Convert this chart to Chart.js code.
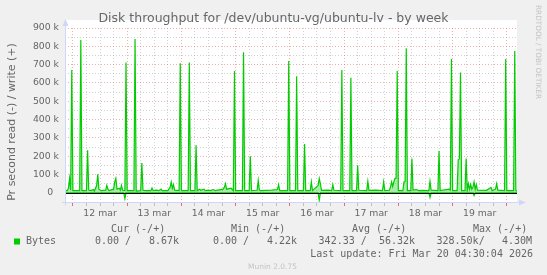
<!DOCTYPE html>
<html>
<head>
<meta charset="utf-8">
<script src="https://cdn.jsdelivr.net/npm/chart.js@4.4.1/dist/chart.umd.min.js"></script>
<style>
  html, body { margin: 0; padding: 0; background: #F0F0F0; }
  #wrap { width: 547px; height: 275px; position: relative; }
</style>
</head>
<body>
<div id="wrap"><canvas id="c" width="547" height="275"></canvas></div>
<script>
// Time in hours relative to 12 mar 00:00; values in k (bytes per second)
const dayLabels = ['12 mar', '13 mar', '14 mar', '15 mar', '16 mar', '17 mar', '18 mar', '19 mar'];
const yTickLabels = ['0', '100 k', '200 k', '300 k', '400 k', '500 k', '600 k', '700 k', '800 k', '900 k'];

const writeTimes = [-3.5,-2.5,-2,-1.5,-1,-0.5,0,3,3.5,4,6,6.5,7,8,9,9.5,10.5,11,11.5,12.5,
  14.5,15,15.5,16,18,18.5,19,19.5,20.5,21,21.5,22,23,23.5,24,27,27.5,28,30,30.5,
  31,32,34.5,35,35.5,37,38,39,39.5,42,43,43.5,44,44.5,45,47,47.5,48,51,51.5,
  52,54,54.5,55,56,56.5,58,58.5,60,61,62,63,66.5,67,67.5,68,70,71,71.5,72,
  75,75.5,76,78,78.5,79,81.5,82,82.5,83,88,90.5,91,91.5,95,95.5,96,98.5,99,99.5,
  102,102.5,103,105,105.5,106,108.5,109,109.5,110,113,114.5,115,115.5,118.5,119,119.5,122.5,123,123.5,
  125.5,126,126.5,130,130.5,131,134,137,137.5,138,140,140.5,141,141.5,142,142.5,143,143.5,144,146,
  146.5,147,147.5,148,149.5,150,150.5,152,153,155,157.5,158,158.5,161.5,162,162.5,166.5,167,167.5,168,
  170,170.5,171,171.5,172,173.5,174,174.5,175,175.5,176,176.5,177,177.5,178,178.5,179,183,185,185.5,
  187,187.5,188,191,191.5,192,195,195.5,196,196.5];
const writeValues = [12,12,25,78,14,670,12,12,835,12,12,232,15,12,18,10,40,101,20,12,
  15,41,20,12,20,60,79,20,25,15,41,14,12,712,12,12,840,10,12,163,
  14,12,12,26,12,15,12,20,12,12,30,59,25,45,15,12,707,12,12,712,
  12,12,260,12,20,14,20,12,15,12,18,12,20,30,50,20,25,12,665,12,
  12,767,12,12,200,12,14,68,16,12,15,18,45,12,12,720,12,12,637,12,
  12,266,12,12,60,12,40,78,50,14,15,12,45,14,12,670,12,12,628,12,
  12,150,14,12,63,14,15,12,60,12,14,30,60,35,60,78,80,665,12,12,
  60,62,790,12,12,188,15,18,12,14,12,63,15,12,228,12,20,15,731,12,
  12,182,185,657,12,12,188,15,50,20,45,20,30,60,20,45,15,14,30,12,
  20,50,15,12,731,12,12,775,12,8.67];

const readTimes = [-3.5,22.5,23,23.5,108.5,109,109.5,157.5,158,158.5,177,177.5,178,196.5];
const readValues = [0,0,-32,0,0,-40,0,0,-25,0,0,-15,0,0];

const legendHeaders = ['Cur (-/+)', 'Min (-/+)', 'Avg (-/+)', 'Max (-/+)'];
const legendValues = ['0.00 /', '8.67k', '0.00 /', '4.22k', '342.33 /', '56.32k', '328.50k/', '4.30M'];

const GREEN = '#00CC00';
const RED_GRID = 'rgba(222,79,79,0.45)';
const GRAY_GRID = 'rgba(143,143,143,0.4)';
const AXIS = '#CFD6F8';
const FONT_COL = '#666666';

function fillGrad(context) {
  const chart = context.chart;
  const area = chart.chartArea;
  if (!area) return 'rgba(0,204,0,0.2)';
  const y0 = chart.scales.y.getPixelForValue(0);
  const g = chart.ctx.createLinearGradient(0, area.top, 0, y0);
  g.addColorStop(0, 'rgba(0,204,0,0.03)');
  g.addColorStop(1, 'rgba(0,204,0,0.35)');
  return g;
}

const munin = {
  id: 'munin',
  beforeDraw(chart) {
    const c = chart.ctx, a = chart.chartArea;
    c.save();
    c.fillStyle = '#F0F0F0';
    c.fillRect(0, 0, chart.width, chart.height);
    c.fillStyle = '#FFFFFF';
    c.fillRect(a.left, a.top - 8, a.right - a.left, a.bottom - a.top + 9);
    c.restore();
  },
  afterDatasetsDraw(chart) {
    const c = chart.ctx, a = chart.chartArea;
    const y0 = Math.round(chart.scales.y.getPixelForValue(0)) + 0.5;
    c.save();
    c.strokeStyle = '#000000';
    c.lineWidth = 1;
    c.beginPath();
    c.moveTo(a.left, y0);
    c.lineTo(a.right, y0);
    c.stroke();
    c.restore();
  },
  afterDraw(chart) {
    const c = chart.ctx, a = chart.chartArea;
    c.save();
    // axes
    c.strokeStyle = AXIS;
    c.fillStyle = AXIS;
    c.lineWidth = 1;
    const ax = Math.round(a.left) + 0.5;
    const ay = Math.round(a.bottom) + 0.5;
    c.beginPath();
    c.moveTo(ax, ay + 3);
    c.lineTo(ax, a.top - 6);
    c.moveTo(a.left - 3, ay);
    c.lineTo(a.right + 6, ay);
    c.stroke();
    c.beginPath();
    c.moveTo(ax, a.top - 9);
    c.lineTo(ax - 3, a.top - 2);
    c.lineTo(ax + 3, a.top - 2);
    c.closePath();
    c.fill();
    c.beginPath();
    c.moveTo(a.right + 9, ay);
    c.lineTo(a.right + 2, ay - 3);
    c.lineTo(a.right + 2, ay + 3);
    c.closePath();
    c.fill();

    // title
    c.fillStyle = FONT_COL;
    c.font = '12.5px "DejaVu Sans"';
    c.textAlign = 'center';
    c.textBaseline = 'middle';
    c.fillText('Disk throughput for /dev/ubuntu-vg/ubuntu-lv - by week', 273.5, 19);

    // y title
    c.save();
    c.translate(12, 122);
    c.rotate(-Math.PI / 2);
    c.font = '11px "DejaVu Sans"';
    c.fillText('Pr second read (-) / write (+)', 0, 0);
    c.restore();

    // watermark
    c.save();
    c.translate(538, 5);
    c.rotate(Math.PI / 2);
    c.fillStyle = '#C4C4C4';
    c.font = '7.3px "DejaVu Sans"';
    c.textAlign = 'left';
    c.fillText('RRDTOOL / TOBI OETIKER', 0, 0);
    c.restore();

    // legend
    c.font = '10px "DejaVu Sans Mono"';
    c.textAlign = 'left';
    c.fillStyle = FONT_COL;
    const hx = [111, 231, 352, 473];
    legendHeaders.forEach((h, i) => c.fillText(h, hx[i], 229.5));
    c.fillStyle = GREEN;
    c.fillRect(14, 238.5, 6, 6);
    c.fillStyle = FONT_COL;
    c.fillText('Bytes', 26, 241.5);
    const vx = [95, 149, 213, 267, 318.6, 379, 436.5, 502];
    legendValues.forEach((v, i) => c.fillText(v, vx[i], 241.5));
    c.textAlign = 'right';
    c.fillText('Last update: Fri Mar 20 04:30:04 2026', 533, 254.5);

    c.textAlign = 'center';
    c.fillStyle = '#C4C4C4';
    c.font = '7.5px "DejaVu Sans"';
    c.fillText('Munin 2.0.75', 272.5, 267);
    c.restore();
  }
};

new Chart(document.getElementById('c'), {
  type: 'line',
  data: {
    datasets: [
      {
        label: 'write',
        data: writeTimes.map((t, i) => ({ x: t, y: writeValues[i] })),
        borderColor: GREEN,
        borderWidth: 1.2,
        pointRadius: 0,
        tension: 0,
        fill: 'origin',
        backgroundColor: fillGrad
      },
      {
        label: 'read',
        data: readTimes.map((t, i) => ({ x: t, y: readValues[i] })),
        borderColor: GREEN,
        borderWidth: 1.2,
        pointRadius: 0,
        tension: 0,
        fill: 'origin',
        backgroundColor: 'rgba(0,204,0,0.25)'
      }
    ]
  },
  options: {
    responsive: false,
    animation: false,
    events: [],
    layout: { padding: { left: 0, right: 30, top: 28, bottom: 53 } },
    plugins: { legend: { display: false }, title: { display: false }, tooltip: { enabled: false } },
    scales: {
      x: {
        type: 'linear',
        min: -3.5,
        max: 196.5,
        afterBuildTicks(scale) {
          const ticks = [];
          for (let t = 0; t <= 192; t += 6) ticks.push({ value: t });
          scale.ticks = ticks;
        },
        afterFit(scale) { scale.height = 20; },
        border: { display: false, dash: [1, 2] },
        grid: {
          color: (ctx) => (ctx.tick && ctx.tick.value % 24 === 0) ? RED_GRID : GRAY_GRID,
          tickColor: (ctx) => (ctx.tick && ctx.tick.value % 24 === 0) ? 'rgba(222,79,79,0.8)' : 'rgba(143,143,143,0.5)',
          tickLength: 4,
          tickBorderDash: [],
          lineWidth: 1,
          drawTicks: true
        },
        ticks: {
          autoSkip: false,
          maxRotation: 0,
          minRotation: 0,
          padding: 2,
          color: FONT_COL,
          font: { family: 'DejaVu Sans', size: 9.3 },
          callback: (v) => (v % 24 === 12) ? dayLabels[Math.floor(v / 24)] : ''
        }
      },
      y: {
        type: 'linear',
        min: -50,
        max: 900,
        afterFit(scale) { scale.width = 65; },
        border: { display: false, dash: [1, 2] },
        grid: {
          color: (ctx) => (ctx.tick && ctx.tick.value % 100 === 0) ? RED_GRID : GRAY_GRID,
          lineWidth: 1,
          drawTicks: false
        },
        ticks: {
          stepSize: 50,
          autoSkip: false,
          padding: 6,
          color: FONT_COL,
          font: { family: 'DejaVu Sans', size: 9.3 },
          callback: (v) => (v >= 0 && v % 100 === 0) ? (v === 0 ? yTickLabels[0] + '  ' : yTickLabels[v / 100]) : ''
        }
      }
    }
  },
  plugins: [munin]
});
</script>
</body>
</html>
